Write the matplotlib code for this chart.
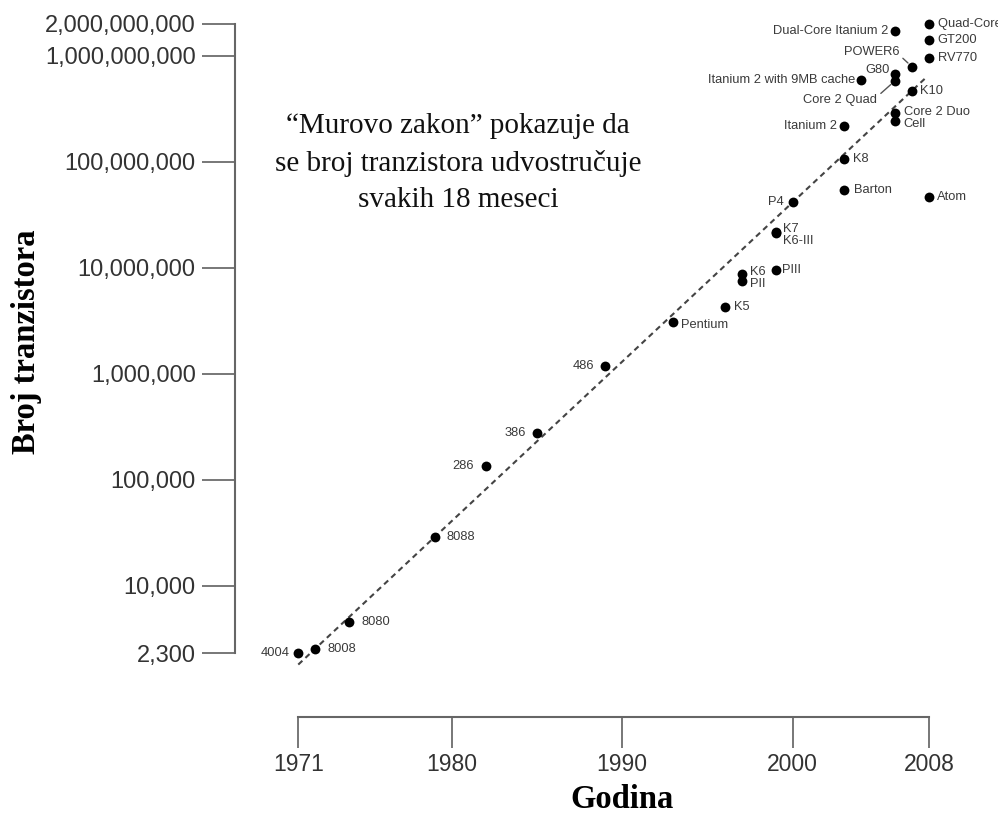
import matplotlib

matplotlib.use("Agg")
import matplotlib.pyplot as plt
from matplotlib.ticker import FixedLocator, NullLocator

CHIPS = [
    "4004", "8008", "8080", "8088", "286", "386", "486", "Pentium", "K5",
    "K6", "PII", "PIII", "K6-III", "K7", "P4", "Barton", "K8", "Itanium 2",
    "Atom", "Itanium 2 with 9MB cache", "Dual-Core Itanium 2", "G80",
    "Core 2 Quad", "POWER6", "K10", "Core 2 Duo", "Cell",
    "Quad-Core Itanium 2", "GT200", "RV770",
]
YEARS = [
    1971, 1972, 1974, 1979, 1982, 1985, 1989, 1993, 1996,
    1997, 1997, 1999, 1999, 1999, 2000, 2003, 2003, 2003,
    2008, 2004, 2006, 2006,
    2006, 2007, 2007, 2006, 2006,
    2008, 2008, 2008,
]
TRANSISTORS = [
    2300, 2500, 4500, 29000, 134000, 275000, 1180000, 3100000, 4300000,
    8800000, 7500000, 9500000, 21300000, 22000000, 42000000, 54300000, 105900000, 220000000,
    47000000, 592000000, 1700000000, 681000000,
    582000000, 789000000, 463000000, 291000000, 241000000,
    2000000000, 1400000000, 956000000,
]

TREND_YEARS = [1971, 2007.8]
TREND_COUNTS = [1.8e3, 6.2e8]

X_TICKS = [1971, 1980, 1990, 2000, 2008]
Y_TICKS = [2300, 1e4, 1e5, 1e6, 1e7, 1e8, 1e9, 2e9]
Y_TICK_LABELS = ["2,300", "10,000", "100,000", "1,000,000", "10,000,000",
                 "100,000,000", "1,000,000,000", "2,000,000,000"]

NOTE = "\u201cMurovo zakon\u201d pokazuje da\nse broj tranzistora udvostru\u010duje\nsvakih 18 meseci"
Y_LABEL = "Broj tranzistora"
X_LABEL = "Godina"

# label placement in pixels: dx, dy (up), alignment, leader line
PLACE = {
    "4004": (-9, 0, "right", False),
    "8008": (12, 0, "left", False),
    "8080": (12, 0, "left", False),
    "8088": (12, 0, "left", False),
    "286": (-12, 0, "right", False),
    "386": (-11, 0, "right", False),
    "486": (-11, 0, "right", False),
    "Pentium": (8, -3, "left", False),
    "K5": (9, 0, "left", False),
    "K6": (8, 2, "left", False),
    "PII": (8, -2.5, "left", False),
    "PIII": (6, 0, "left", False),
    "K6-III": (7, -7.5, "left", False),
    "K7": (7, 2.5, "left", False),
    "P4": (-9, 0, "right", False),
    "Barton": (10, 0, "left", False),
    "K8": (9, 0, "left", False),
    "Itanium 2": (-7, 0, "right", False),
    "Atom": (8, 0, "left", False),
    "Itanium 2 with 9MB cache": (-6, 0, "right", False),
    "Dual-Core Itanium 2": (-7, 0, "right", False),
    "G80": (-5, 4, "right", False),
    "Core 2 Quad": (-18, -19, "right", (1.0, 0.75)),
    "POWER6": (-13, 15, "right", (1.0, 0.25)),
    "K10": (7.5, 0, "left", False),
    "Core 2 Duo": (9, 1, "left", False),
    "Cell": (8.5, -3, "left", False),
    "Quad-Core Itanium 2": (8.5, 0, "left", False),
    "GT200": (8.5, 0, "left", False),
    "RV770": (8.5, 0, "left", False),
}

W, H = 998, 816
PT = 0.72  # points per pixel at dpi 100
SANS = ["Liberation Sans", "DejaVu Sans"]
SERIF = ["Liberation Serif", "DejaVu Serif"]


def main() -> None:
    fig = plt.figure(figsize=(W / 100, H / 100), dpi=100)
    ax = fig.add_axes([235 / W, (H - 716.7) / H, (W - 235) / W, (716.7 - 10) / H])
    ax.set_yscale("log")
    ax.set_xlim(1967.29, 2012.04)
    ax.set_ylim(580, 2.71e9)

    for s in ("top", "right"):
        ax.spines[s].set_visible(False)
    ax.spines["left"].set_bounds(Y_TICKS[0], Y_TICKS[-1])
    ax.spines["bottom"].set_bounds(X_TICKS[0], X_TICKS[-1])
    for s in ("left", "bottom"):
        ax.spines[s].set_color("#666666")
        ax.spines[s].set_linewidth(1.5)

    ax.yaxis.set_major_locator(FixedLocator(Y_TICKS))
    ax.yaxis.set_minor_locator(NullLocator())
    ax.set_yticklabels(Y_TICK_LABELS)
    ax.set_xticks(X_TICKS)
    ax.set_xticklabels([str(x) for x in X_TICKS])
    ax.tick_params(axis="y", direction="out", length=24, width=1.4, color="#777777",
                   pad=4.3, labelsize=17, labelcolor="#333333")
    ax.tick_params(axis="x", direction="out", length=22.3, width=1.4, color="#777777",
                   pad=4, labelsize=16.5, labelcolor="#333333")
    for lab in ax.get_xticklabels() + ax.get_yticklabels():
        lab.set_family(SANS)

    ax.plot(TREND_YEARS, TREND_COUNTS, linestyle=(0, (2.7, 2.0)), color="#444444",
            linewidth=1.5, zorder=2)
    ax.scatter(YEARS, TRANSISTORS, s=50, color="black", zorder=3, clip_on=False,
               linewidths=0)

    for name, x, y in zip(CHIPS, YEARS, TRANSISTORS):
        dx, dy, ha, lead = PLACE[name]
        arrow = None
        if lead:
            arrow = dict(arrowstyle="-", color="#555555", lw=1.0, shrinkA=1, shrinkB=4,
                         relpos=lead)
        ax.annotate(name, (x, y), xytext=(dx * PT, dy * PT), textcoords="offset points",
                    ha=ha, va="center", fontsize=9.3, color="#3a3a3a", family=SANS,
                    arrowprops=arrow, annotation_clip=False)

    fig.text(458 / W, 1 - 163 / H, NOTE, ha="center", va="center", multialignment="center",
             fontsize=21, family=SERIF, color="#111111", linespacing=1.52)
    fig.text(27 / W, 1 - 342 / H, Y_LABEL, rotation=90, ha="center", va="center",
             fontsize=23.5, fontweight="bold", family=SERIF, color="black")
    fig.text(622 / W, 1 - 800 / H, X_LABEL, ha="center", va="center",
             fontsize=23.5, fontweight="bold", family=SERIF, color="black")

    fig.savefig("out.png", dpi=100)
    plt.close(fig)


if __name__ == "__main__":
    main()
